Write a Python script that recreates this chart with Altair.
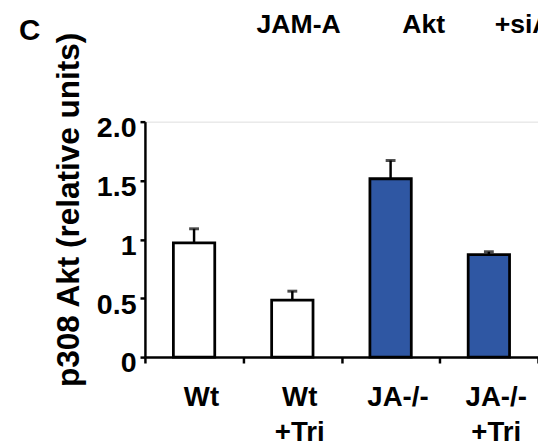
import altair as alt
import pandas as pd

categories = ["Wt", "Wt +Tri", "JA-/-", "JA-/- +Tri"]
groups = ["Wt", "Wt", "JA", "JA"]
values = [0.97, 0.485, 1.515, 0.87]
upper = [1.09, 0.56, 1.67, 0.895]
y_ticks = [0, 0.5, 1, 1.5, 2]
top_labels = ["JAM-A", "Akt", "+siAkt"]
panel_letter = "C"
y_title = "p308 Akt (relative units)"

FONT = "Liberation Sans, Arial, sans-serif"

df = pd.DataFrame({"cat": categories, "group": groups, "value": values, "upper": upper})

x_enc = alt.X(
    "cat:N",
    sort=categories,
    scale=alt.Scale(paddingInner=0, paddingOuter=0),
    axis=alt.Axis(
        title=None,
        labelExpr="split(datum.label, ' ')",
        labelAngle=0,
        labelFont=FONT,
        labelFontSize=28,
        labelFontWeight="bold",
        labelColor="black",
        labelPadding=21,
        labelLineHeight=36,
        labelOffset=7,
        labelBaseline="top",
        tickBand="extent",
        tickSize=6,
        tickWidth=2.5,
        tickColor="black",
        domainColor="black",
        domainWidth=2.5,
        grid=False,
    ),
)

y_scale = alt.Scale(domain=[0, 2], nice=False)
y_enc = alt.Y(
    "value:Q",
    scale=y_scale,
    axis=alt.Axis(
        values=y_ticks,
        labelExpr="datum.value == 2 ? '2.0' : toString(datum.value)",
        labelFont=FONT,
        labelFontSize=29,
        labelFontWeight="bold",
        labelColor="black",
        labelPadding=4,
        labelOffset=6,
        tickSize=5,
        tickWidth=2.5,
        tickColor="black",
        domainColor="black",
        domainWidth=2.5,
        grid=False,
        title=y_title,
        titleFont=FONT,
        titleFontSize=32,
        titleFontWeight="bold",
        titleColor="black",
        titleAngle=270,
        titleAlign="center",
        titleBaseline="middle",
        titleX=-77,
        titleY=89,
    ),
)

base = alt.Chart(df)

err_rule = base.mark_rule(color="black", strokeWidth=2.5).encode(
    x=x_enc, y=alt.Y("value:Q", scale=y_scale), y2="upper:Q"
)
err_cap = base.mark_tick(color="black", thickness=3, size=10).encode(
    x=x_enc, y=alt.Y("upper:Q", scale=y_scale)
)
bars = base.mark_bar(size=42, stroke="black", strokeWidth=2.8).encode(
    x=x_enc,
    y=y_enc,
    color=alt.Color(
        "group:N",
        scale=alt.Scale(domain=["Wt", "JA"], range=["#ffffff", "#2f57a3"]),
        legend=None,
    ),
)

one = pd.DataFrame({"k": [0]})

def label(text, xpos, ypos, align, size):
    return alt.Chart(one).mark_text(
        text=text, font=FONT, fontSize=size, fontWeight="bold", color="black",
        align=align, baseline="alphabetic",
    ).encode(x=alt.value(xpos), y=alt.value(ypos))

t1 = label(top_labels[0], 156, -90, "center", 27)
t2 = label(top_labels[1], 283, -90, "center", 27)
t3 = label(top_labels[2], 355, -90, "left", 27)
tc = label(panel_letter, -117, -83, "center", 30)

chart = alt.layer(err_rule, err_cap, bars, t1, t2, t3, tc).properties(
    width=399,
    height=239,
    autosize=alt.AutoSizeParams(type="none"),
    padding={"left": 139, "top": 112, "right": 0, "bottom": 96},
).configure_view(stroke=None).configure(background="white")

chart.save("out.html", embed_options={"renderer": "svg", "actions": False})
